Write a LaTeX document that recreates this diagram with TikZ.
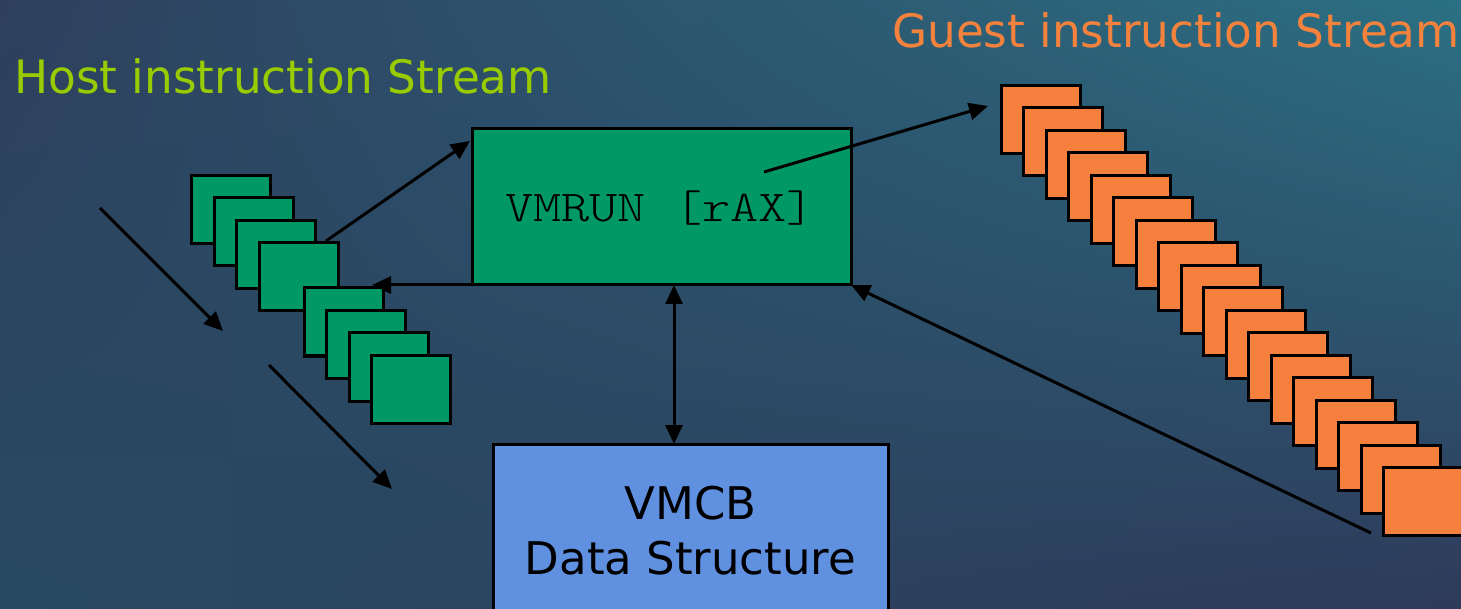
\documentclass[tikz,border=0pt]{standalone}
\usepackage{fontspec}
\setmainfont{DejaVu Sans}
\newfontfamily\titlefnt{DejaVu Sans}[FakeStretch=0.985]
\newfontfamily\courierish{lmmonolt10-regular.otf}[FakeStretch=1.22]
\usetikzlibrary{arrows.meta,shadings}
\definecolor{bgUL}{RGB}{46,64,94}
\definecolor{bgUR}{RGB}{43,112,132}
\definecolor{bgLL}{RGB}{40,74,98}
\definecolor{bgLR}{RGB}{46,58,90}
\definecolor{hostgreen}{RGB}{0,153,102}
\definecolor{guestorange}{RGB}{245,128,62}
\definecolor{vmcbblue}{RGB}{96,144,224}
\definecolor{hosttitle}{RGB}{153,204,0}
\definecolor{guesttitle}{RGB}{244,130,60}
\tikzset{
  sq/.style={draw=black, line width=3pt, minimum width=79pt, minimum height=68pt, inner sep=0pt, anchor=north west},
  hsq/.style={sq, fill=hostgreen},
  gsq/.style={sq, fill=guestorange},
  bigbox/.style={draw=black, line width=3pt, inner sep=0pt, outer sep=0pt, anchor=north west},
  conn/.style={line width=3pt, -{Triangle[length=19pt,width=17pt]}},
  conn2/.style={line width=3pt, {Triangle[length=19pt,width=17pt]}-{Triangle[length=19pt,width=17pt]}},
  title/.style={anchor=base west, inner sep=0pt, font=\titlefnt\fontsize{46}{50}\selectfont}
}
\begin{document}
\begin{tikzpicture}[x=1pt,y=-1pt]
\useasboundingbox (0,0) rectangle (1461,609);
\clip (0,0) rectangle (1461,609);
\shade[upper left=bgUL, upper right=bgUR, lower left=bgLL, lower right=bgLR] (0,0) rectangle (1461,609);

% titles
\node[title, text=hosttitle] (hosttitle) at (14,94) {Host instruction Stream};
\node[title, text=guesttitle] (guesttitle) at (892,48) {Guest instruction Stream};

% host stack
\foreach \k/\n in {0/h0,1/h1,2/h2,3/h3,5/h5,6/h6,7/h7,8/h8}{
  \node[hsq] (\n) at (190+22.5*\k,174+22.5*\k) {};
}
% guest stack
\foreach \k in {0,...,17}{
  \node[gsq] (g\k) at (1000+22.47*\k,84+22.47*\k) {};
}

% main boxes
\node[bigbox, fill=hostgreen, minimum width=379pt, minimum height=156pt] (vmrun) at (472,129) {};
\node[inner sep=0pt, anchor=base, font=\courierish\fontsize{44}{50}\selectfont] (vmruntext) at (660,222) {VMRUN [rAX]};
\node[bigbox, fill=vmcbblue, minimum width=395pt, minimum height=174pt, align=center,
      font=\fontsize{45}{55}\selectfont] (vmcb) at (493,444) {VMCB\\Data Structure};

% connector end points
\coordinate (hstart) at (326,241);
\coordinate (vin) at (470,141);
\coordinate (vrin) at (764,172);
\coordinate (gtip) at (988,106);
\coordinate (htip) at (372,285);
\coordinate (gtail) at (1371,533);
\coordinate (dx) at (674,0);
\coordinate (a1s) at (100,208);
\coordinate (a1e) at (223,331);
\coordinate (a2s) at (269,365);
\coordinate (a2e) at (392,489);

% connectors
\draw[conn] (hstart) -- (vin);
\draw[conn] (vmrun.south west) -- (vmrun.south west -| htip);
\draw[conn] (vrin) -- (gtip);
\draw[conn] (gtail) -- (vmrun.south east);
\draw[conn2] (vmrun.south -| dx) -- (vmcb.north -| dx);
\draw[conn] (a1s) -- (a1e);
\draw[conn] (a2s) -- (a2e);
\end{tikzpicture}
\end{document}
